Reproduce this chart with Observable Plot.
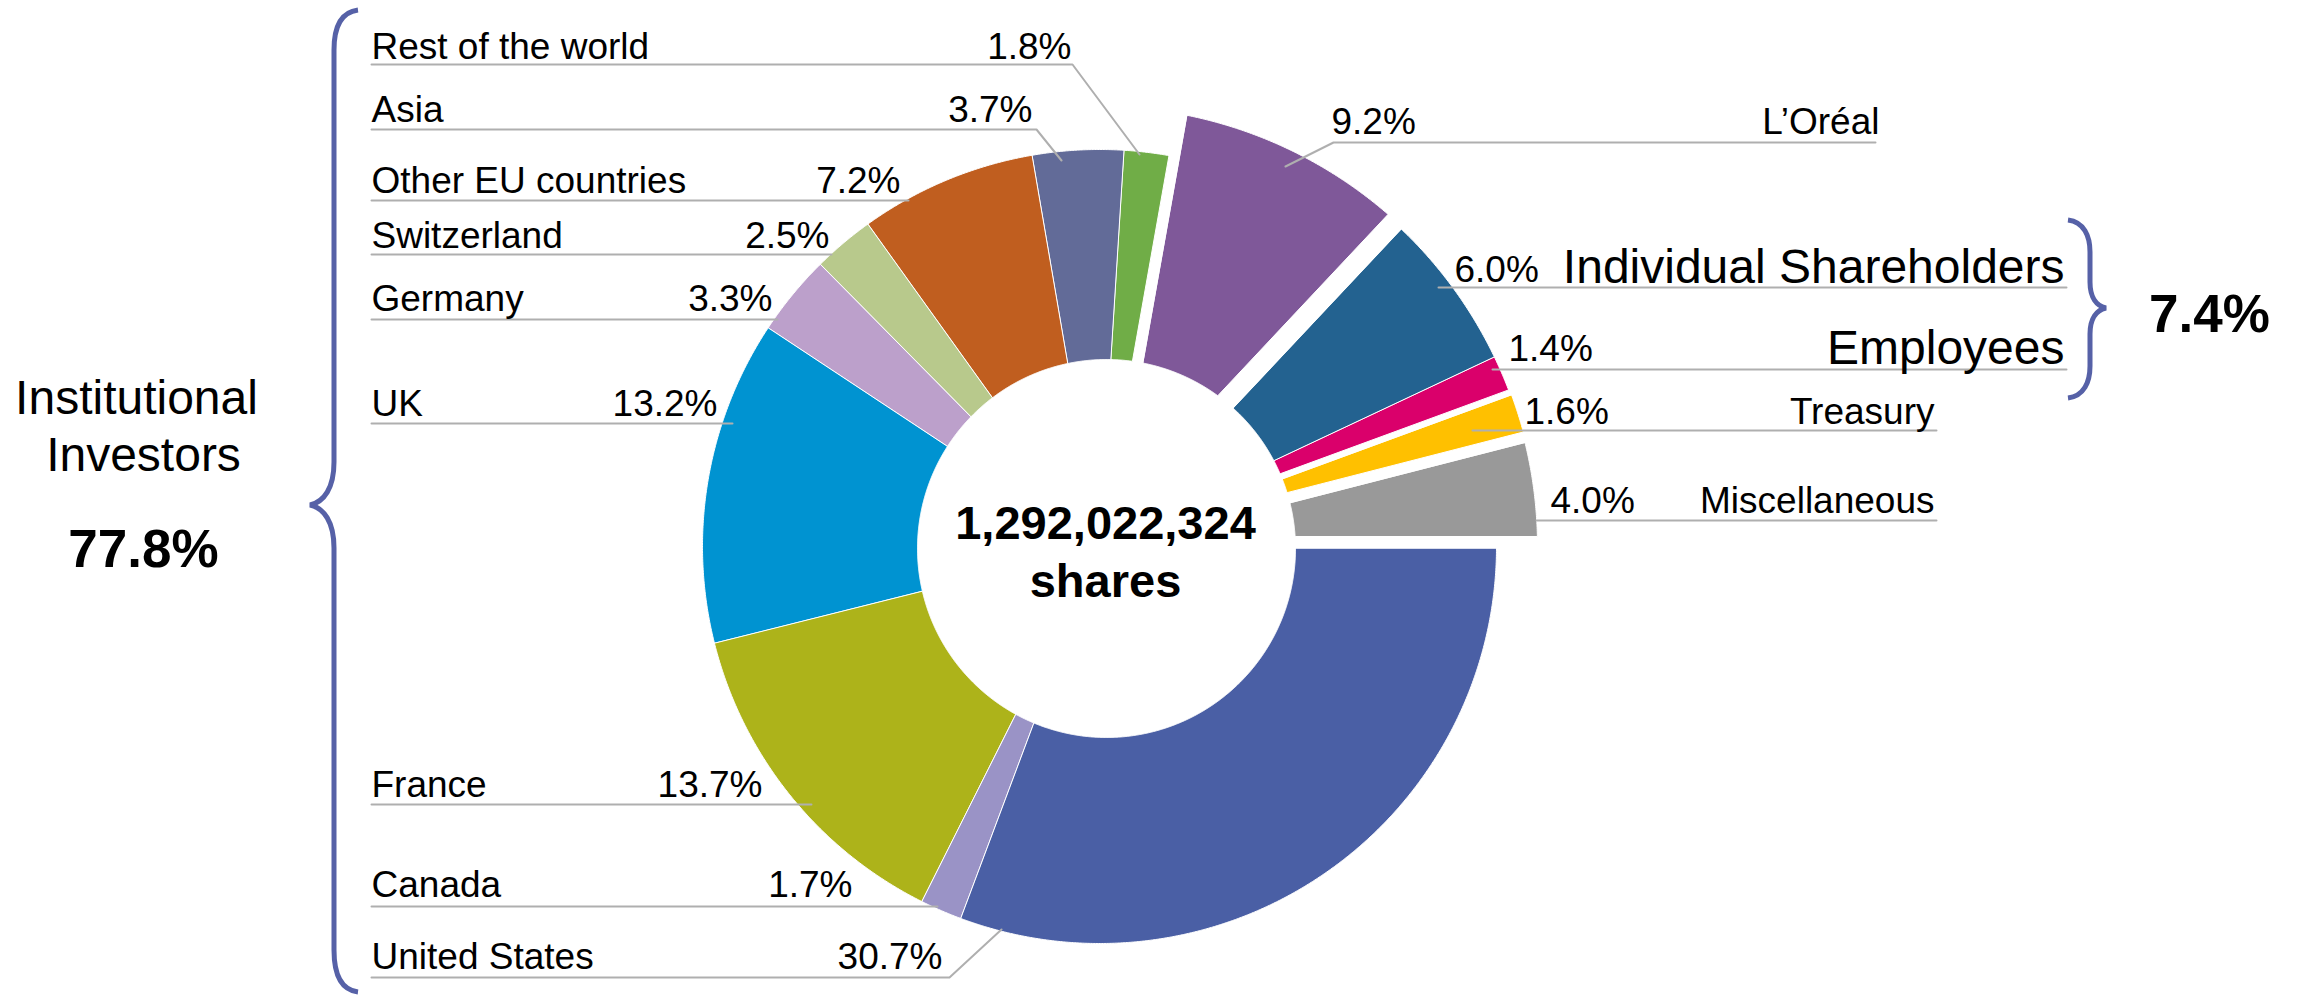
<!DOCTYPE html>
<html>
<head>
<meta charset="utf-8">
<script src="https://cdn.jsdelivr.net/npm/d3@7"></script>
<script src="https://cdn.jsdelivr.net/npm/@observablehq/plot@0.6"></script>
<style>
  html, body { margin: 0; padding: 0; background: #fff; overflow: hidden; }
</style>
</head>
<body>
<div id="chart"></div>
<script>
// ---------------- DATA ----------------
const names = ["United States", "Canada", "France", "UK", "Germany", "Switzerland",
  "Other EU countries", "Asia", "Rest of the world", "L’Oréal",
  "Individual Shareholders", "Employees", "Treasury", "Miscellaneous"];
const values = [30.7, 1.7, 13.7, 13.2, 3.3, 2.5, 7.2, 3.7, 1.8, 9.2, 6.0, 1.4, 1.6, 4.0];
const colors = ["#4A5FA5", "#9A93C6", "#ADB31A", "#0093D1", "#BCA0CB", "#B8C98C",
  "#C05E1F", "#626B98", "#70AD47", "#7F5899", "#236290", "#DA006B", "#FFC000", "#999999"];
const groupNames = ["Institutional", "Investors"];
const groupTotals = ["77.8%", "7.4%"];
const totalShares = ["1,292,022,324", "shares"];

// ---------------- LAYOUT (geometry / styling, not data) ----------------
const FONT = "'Liberation Sans', Arial, Helvetica, sans-serif";
const SMALL = 37, BIG = 48;
const C = {x: 1099, y: 546, R: 397};          // outer ring centre & radius
const H = {x: 1106, y: 548, r: 189};          // hole
const explode = {
  "United States": {p0: 2, p1: 0},
  "L’Oréal": {R: 440, p0: 11, p1: 17},
  "Individual Shareholders": {R: 438, p0: 3, p1: 3},
  "Employees": {R: 438, p0: -3, p1: 6},
  "Treasury": {R: 439, p0: 0, p1: 5.5},
  "Miscellaneous": {R: 438, p0: 5.5, p1: 10}
};
// label layout: baseline y, percent anchor x, leader line
const leftX = 371;
const leftLayout = {
  "Rest of the world": {y: 58, px: 1071, ly: 64, x1: 1072, d: [1139, 154]},
  "Asia": {y: 121, px: 1032, ly: 129, x1: 1036, d: [1061, 160]},
  "Other EU countries": {y: 192, px: 900, ly: 200, x1: 908},
  "Switzerland": {y: 247, px: 829, ly: 254, x1: 831},
  "Germany": {y: 310, px: 772, ly: 319, x1: 777},
  "UK": {y: 415, px: 717, ly: 423, x1: 732},
  "France": {y: 796, px: 762, ly: 804, x1: 811},
  "Canada": {y: 896, px: 852, ly: 906, x1: 937},
  "United States": {y: 968, px: 942, ly: 977, x1: 949, d: [1001, 929]}
};
const rightLayout = {
  "L’Oréal": {y: 133, px: 1331, nx: 1879, ny: 133, ly: 142, x0: 1333, x1: 1875, d: [1285, 166], big: false},
  "Individual Shareholders": {y: 281, px: 1454, nx: 2064, ny: 282, ly: 287, x0: 1438, x1: 2066, big: true},
  "Employees": {y: 360, px: 1508, nx: 2064, ny: 363, ly: 369, x0: 1492, x1: 2066, big: true},
  "Treasury": {y: 423, px: 1524, nx: 1934, ny: 423, ly: 430, x0: 1472, x1: 1936, big: false},
  "Miscellaneous": {y: 512, px: 1550, nx: 1934, ny: 512, ly: 520, x0: 1536, x1: 1936, big: false}
};

// ---------------- GEOMETRY ----------------
const pie = d3.pie().sort(null).startAngle(Math.PI / 2).endAngle(Math.PI / 2 + 2 * Math.PI);
const arcs = pie(values);
const unit = t => [Math.sin(t), -Math.cos(t)];
function angleAround(px, py, cx, cy, ref) {
  let t = Math.atan2(px - cx, -(py - cy));
  while (t - ref > Math.PI) t -= 2 * Math.PI;
  while (t - ref < -Math.PI) t += 2 * Math.PI;
  return t;
}
function slicePoly(a0, a1, R, p0, p1) {
  const n0 = [Math.cos(a0), Math.sin(a0)], n1 = [-Math.cos(a1), -Math.sin(a1)];
  const edge = (p, n, uu) => {
    const bx = C.x + p * n[0], by = C.y + p * n[1];
    const so = Math.sqrt(R * R - p * p);
    const O = [bx + so * uu[0], by + so * uu[1]];
    const wx = bx - H.x, wy = by - H.y;
    const wu = wx * uu[0] + wy * uu[1];
    const si = -wu + Math.sqrt(wu * wu - (wx * wx + wy * wy) + H.r * H.r);
    return {O, I: [bx + si * uu[0], by + si * uu[1]]};
  };
  const e0 = edge(p0, n0, unit(a0)), e1 = edge(p1, n1, unit(a1));
  const phi0 = angleAround(e0.O[0], e0.O[1], C.x, C.y, a0);
  const phi1 = angleAround(e1.O[0], e1.O[1], C.x, C.y, a1);
  const psi0 = angleAround(e0.I[0], e0.I[1], H.x, H.y, a0);
  const psi1 = angleAround(e1.I[0], e1.I[1], H.x, H.y, a1);
  const pts = [];
  const n = Math.max(2, Math.ceil((phi1 - phi0) / 0.004));
  for (let i = 0; i <= n; i++) {
    const t = phi0 + (phi1 - phi0) * i / n;
    pts.push([C.x + R * Math.sin(t), C.y - R * Math.cos(t)]);
  }
  const m = Math.max(2, Math.ceil((psi1 - psi0) / 0.004));
  for (let i = m; i >= 0; i--) {
    const t = psi0 + (psi1 - psi0) * i / m;
    pts.push([H.x + H.r * Math.sin(t), H.y - H.r * Math.cos(t)]);
  }
  return pts;
}
const sliceRows = [];
arcs.forEach((a, i) => {
  const e = explode[names[i]] || {};
  const poly = slicePoly(a.startAngle, a.endAngle, e.R || C.R, e.p0 || 0, e.p1 || 0);
  poly.forEach(([x, y]) => sliceRows.push({name: names[i], x, y, color: colors[i]}));
});

const pctText = v => d3.format(".1f")(v) + "%";

// leaders and labels
const leaderRows = [];
const textStart = [], textEnd = [];
names.forEach((name, i) => {
  const L = leftLayout[name];
  if (L) {
    textStart.push({x: leftX, y: L.y, text: name, size: SMALL});
    textEnd.push({x: L.px, y: L.y, text: pctText(values[i]), size: SMALL});
    leaderRows.push({id: name, x: leftX, y: L.ly});
    leaderRows.push({id: name, x: L.x1, y: L.ly});
    if (L.d) leaderRows.push({id: name, x: L.d[0], y: L.d[1]});
  }
  const Rr = rightLayout[name];
  if (Rr) {
    textStart.push({x: Rr.px, y: Rr.y, text: pctText(values[i]), size: SMALL});
    textEnd.push({x: Rr.nx, y: Rr.ny, text: name, size: Rr.big ? BIG : SMALL});
    if (Rr.d) leaderRows.push({id: name, x: Rr.d[0], y: Rr.d[1]});
    leaderRows.push({id: name, x: Rr.x0, y: Rr.ly});
    leaderRows.push({id: name, x: Rr.x1, y: Rr.ly});
  }
});
const textMiddle = [
  {x: 136, y: 413, text: groupNames[0], size: 48, weight: "normal"},
  {x: 143, y: 470, text: groupNames[1], size: 48, weight: "normal"},
  {x: 143, y: 566, text: groupTotals[0], size: 53, weight: "bold"},
  {x: 2209, y: 331, text: groupTotals[1], size: 53, weight: "bold"},
  {x: 1105, y: 538, text: totalShares[0], size: 47, weight: "bold"},
  {x: 1105, y: 596, text: totalShares[1], size: 47, weight: "bold"}
];

const chart = Plot.plot({
  width: 2297,
  height: 997,
  margin: 0,
  x: {type: "identity", axis: null},
  y: {type: "identity", axis: null},
  color: {type: "identity"},
  style: {fontFamily: FONT, background: "#fff", color: "#000"},
  marks: [
    Plot.line(sliceRows, {x: "x", y: "y", z: "name", fill: "color", stroke: "#fff", strokeWidth: 1, curve: "linear-closed"}),
    Plot.line(leaderRows, {x: "x", y: "y", z: "id", stroke: "#AFAFAF", strokeWidth: 2}),
    Plot.text(textStart, {x: "x", y: "y", text: "text", fontSize: "size", textAnchor: "start", lineAnchor: "bottom", fill: "#000"}),
    Plot.text(textEnd, {x: "x", y: "y", text: "text", fontSize: "size", textAnchor: "end", lineAnchor: "bottom", fill: "#000"}),
    Plot.text(textMiddle.filter(d => d.weight === "normal"), {x: "x", y: "y", text: "text", fontSize: "size", textAnchor: "middle", lineAnchor: "bottom", fill: "#000"}),
    Plot.text(textMiddle.filter(d => d.weight === "bold"), {x: "x", y: "y", text: "text", fontSize: "size", fontWeight: "bold", textAnchor: "middle", lineAnchor: "bottom", fill: "#000"})
  ]
});
document.getElementById("chart").appendChild(chart);

// curly braces (annotation)
const svg = d3.select(chart);
const braces = [
  "M358,10 C342,12 334,26 334,50 L334,462 C334,488 324,502 310,505 C324,508 334,522 334,548 L334,950 C334,975 342,990 358,992",
  "M2068,220 C2084,222 2090,236 2090,252 L2090,282 C2090,298 2097,306 2106,308 C2097,310 2090,318 2090,334 L2090,366 C2090,382 2084,396 2068,398"
];
braces.forEach(d => svg.append("path").attr("d", d).attr("fill", "none")
  .attr("stroke", "#5661A7").attr("stroke-width", 5).attr("stroke-linecap", "butt"));
</script>
</body>
</html>
